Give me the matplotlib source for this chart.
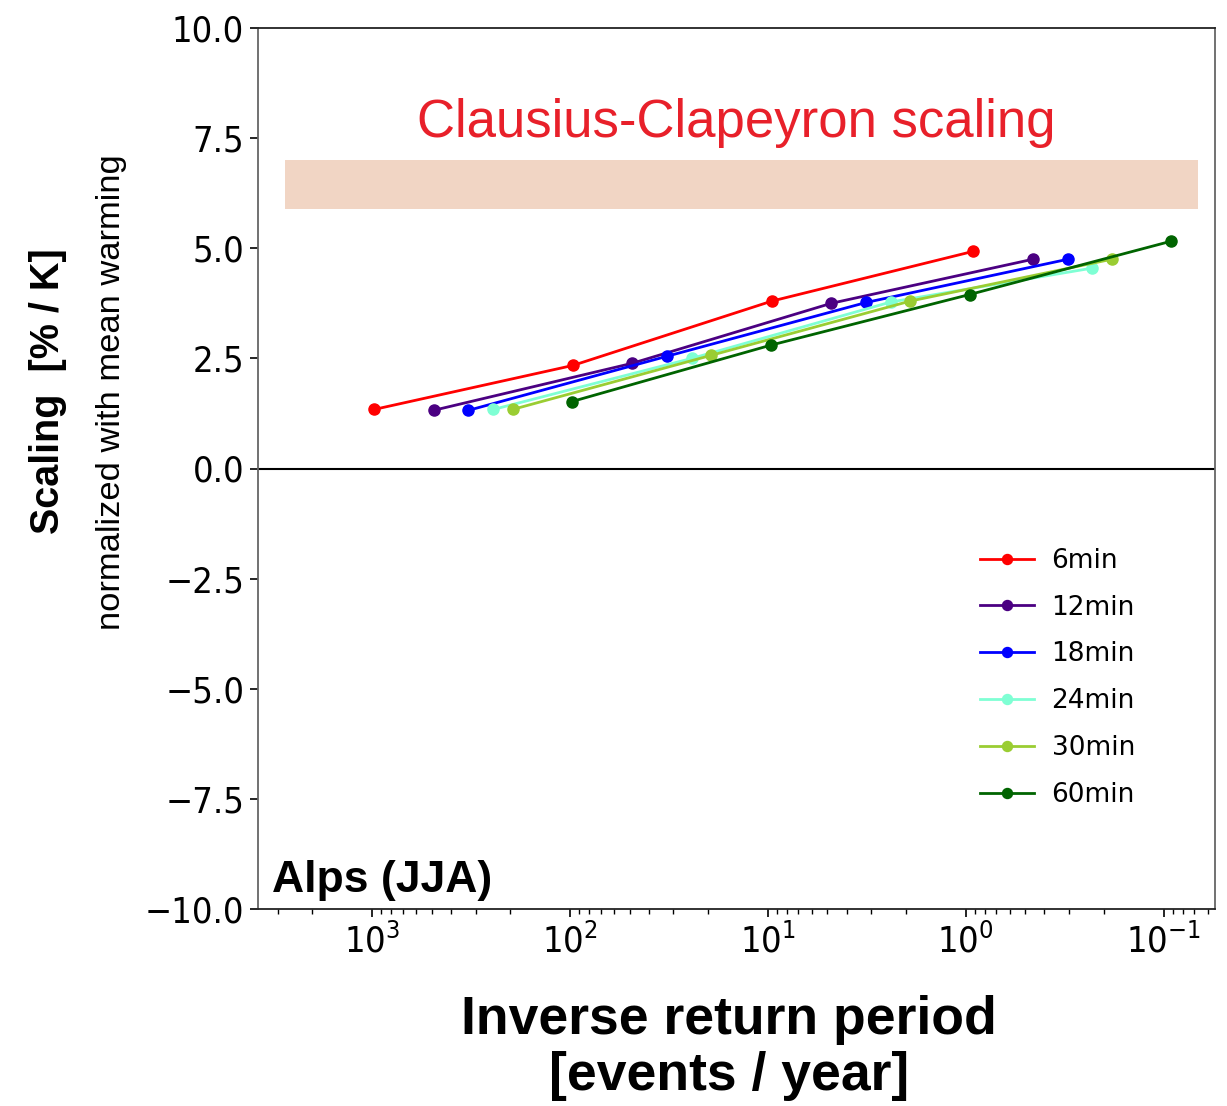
import matplotlib
matplotlib.use("Agg")
import matplotlib.pyplot as plt
import numpy as np

# ---- data ----
labels = ["6min", "12min", "18min", "24min", "30min", "60min"]
colors = ["red", "indigo", "blue", "aquamarine", "yellowgreen", "darkgreen"]
freq_6 = [977, 96.6, 9.55, 0.916]
freq_12 = [489, 48.3, 4.78, 0.458]
freq_18 = [326, 32.2, 3.18, 0.305]
freq_24 = [244, 24.2, 2.39, 0.229]
freq_30 = [195, 19.3, 1.91, 0.183]
freq_60 = [97.7, 9.66, 0.955, 0.0916]
scal_6 = [1.34, 2.34, 3.80, 4.93]
scal_12 = [1.32, 2.39, 3.75, 4.75]
scal_18 = [1.32, 2.55, 3.77, 4.75]
scal_24 = [1.34, 2.50, 3.78, 4.55]
scal_30 = [1.34, 2.57, 3.80, 4.75]
scal_60 = [1.52, 2.80, 3.95, 5.16]
freqs = [freq_6, freq_12, freq_18, freq_24, freq_30, freq_60]
scals = [scal_6, scal_12, scal_18, scal_24, scal_30, scal_60]
cc_low, cc_high = 5.9, 7.0
cc_x = [2750, 0.067]
yticks = [-10.0, -7.5, -5.0, -2.5, 0.0, 2.5, 5.0, 7.5, 10.0]

W, H = 1227, 1106
fig = plt.figure(figsize=(W / 100, H / 100), dpi=100)
ax = fig.add_axes([258 / W, 1 - 909 / H, (1215 - 258) / W, (909 - 28) / H])

ax.fill_between(cc_x, cc_low, cc_high, color="#f1d5c4", lw=0, zorder=1)
ax.axhline(0, color="black", lw=1.5, zorder=2)

for f, s, c, l in zip(freqs, scals, colors, labels):
    ax.plot(f, s, color=c, marker="o", ms=8, lw=2, label=l, zorder=3)

ax.set_xscale("log")
ax.set_xlim(3770, 0.055)
ax.set_ylim(-10, 10)
ax.set_yticks(yticks)
ax.set_yticklabels([f"{v:.1f}".replace("-", "\u2212") for v in yticks])

for sp in ax.spines.values():
    sp.set_color("#222222")
    sp.set_linewidth(1.3)
ax.spines["left"].set_color("#666666")
ax.spines["right"].set_color("#666666")

ax.tick_params(axis="both", which="major", labelsize=26, length=6, width=1.2, pad=4)
ax.tick_params(axis="x", which="minor", length=3.5, width=1)
for t in ax.get_xticklabels() + ax.get_yticklabels():
    t.set_fontfamily("DejaVu Sans")
    t.set_fontstretch("condensed")

ax.text(0.5, 7.85, "Clausius-Clapeyron scaling", color="#e8202a", fontsize=38,
        family="Liberation Sans", ha="center", va="center",
        transform=ax.get_yaxis_transform())
ax.text(0.0146, 0.019, "Alps (JJA)", fontsize=32, fontweight="bold",
        family="Liberation Sans", ha="left", va="baseline", transform=ax.transAxes)

leg = ax.legend(loc="upper left", bbox_to_anchor=(0.754, 0.41), frameon=False,
                borderaxespad=0, borderpad=0, fontsize=19, handlelength=2.05,
                handletextpad=0.68, labelspacing=0.79, markerscale=0.9)

fig.text(48 / W, 1 - 391 / H, "Scaling  [% / K]", rotation=90, fontsize=28.5,
         fontweight="bold", family="Liberation Sans", ha="center", va="center")
fig.text(112 / W, 1 - 392 / H, "normalized with mean warming", rotation=90,
         fontsize=24.8, family="Liberation Sans", ha="center", va="center")
fig.text(729 / W, 1 - 1048 / H, "Inverse return period\n[events / year]", fontsize=38.5,
         fontweight="bold", family="Liberation Sans", ha="center", va="center",
         linespacing=1.14)

fig.savefig("out.png", dpi=100)
